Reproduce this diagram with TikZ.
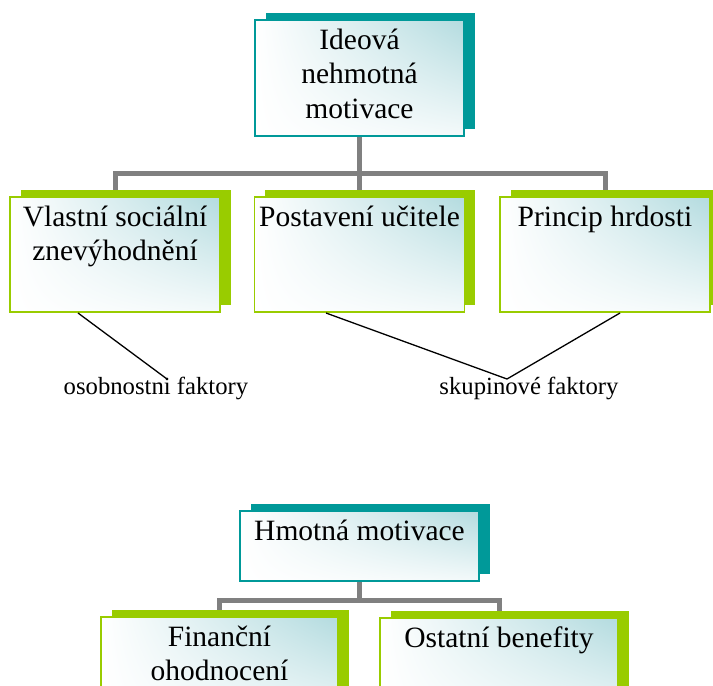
\documentclass[tikz,border=0pt]{standalone}
\usepackage{fontspec}
\setmainfont{Liberation Serif}
\usetikzlibrary{shadows,shadings}
\definecolor{tealc}{HTML}{009999}
\definecolor{greenc}{HTML}{99CC00}
\definecolor{grayc}{HTML}{808080}
\definecolor{lightt}{HTML}{B3DBDF}
\pgfdeclarelayer{background}
\pgfsetlayers{background,main}
\tikzset{
  boxbase/.style={rectangle, inner sep=0pt, outer sep=0pt, line width=1.8pt,
    upper left=white, upper right=lightt, lower left=white, lower right=white!85!lightt},
  tealbox/.style={boxbase, draw=tealc, general shadow={shadow xshift=10.5pt, shadow yshift=7.5pt, fill=tealc}},
  greenbox/.style={boxbase, draw=greenc, general shadow={shadow xshift=10.5pt, shadow yshift=7.5pt, fill=greenc}},
  boxtext/.style={font=\fontsize{29.5pt}{34.5pt}\selectfont, align=center, anchor=base, inner sep=0pt},
  labtext/.style={font=\fontsize{24.7pt}{29pt}\selectfont, anchor=base, inner sep=0pt},
  conn/.style={draw=grayc, line width=5pt, line join=miter, line cap=rect},
  pointer/.style={draw=black, line width=1.3pt}
}
\begin{document}
\begin{tikzpicture}[x=1pt,y=-1pt]
\useasboundingbox (0,0) rectangle (713,686);
\clip (0,0) rectangle (713,686);
% top tree
\node[tealbox, minimum width=209pt, minimum height=116pt] (top) at (359.5,78) {};
\node[boxtext] (ttop) at ([yshift=-98pt]top.north) {Ideová\\nehmotná\\motivace};
\node[greenbox, minimum width=210pt, minimum height=115pt] (b1) at (115,254.5) {};
\node[greenbox, minimum width=210pt, minimum height=115pt] (b2) at (359.5,254.5) {};
\node[greenbox, minimum width=210pt, minimum height=115pt] (b3) at (605,254.5) {};
\node[boxtext] (tb1) at ([yshift=-63.5pt]b1.north) {Vlastní sociální\\znevýhodnění};
\node[boxtext] (tb2) at ([yshift=-29pt]b2.north) {Postavení učitele};
\node[boxtext] (tb3) at ([yshift=-29pt]b3.north) {Princip hrdosti};
\coordinate (j1) at (359.5,173);
% labels
\node[labtext] (l1) at (156,394) {osobnostni faktory};
\node[labtext] (l2) at (529,394) {skupinové faktory};
\coordinate (e1) at (167,379);
\coordinate (e2) at (507,379);
\coordinate (s1) at (78,313);
\coordinate (s2) at (326,313);
\coordinate (s3) at (620,313);
\draw[pointer] (s1) -- (e1);
\draw[pointer] (s2) -- (e2) -- (s3);
% bottom tree
\node[tealbox, minimum width=239pt, minimum height=70pt] (hm) at (359.5,546) {};
\node[boxtext] (thm) at ([yshift=-29pt]hm.north) {Hmotná motivace};
\node[greenbox, minimum width=237pt, minimum height=110pt] (c1) at (219.5,672) {};
\node[greenbox, minimum width=238pt, minimum height=110pt] (c2) at (499,673) {};
\node[boxtext] (tc1) at ([yshift=-63.5pt]c1.north) {Finanční\\ohodnocení};
\node[boxtext] (tc2) at ([yshift=-29pt]c2.north) {Ostatní benefity};
\coordinate (j2) at (359.5,600);
\begin{pgfonlayer}{background}
  \draw[conn] (top.south) -- (j1);
  \draw[conn] (b1.north) -- (b1.north |- j1) -- (b3.north |- j1) -- (b3.north);
  \draw[conn] (j1) -- (b2.north);
  \draw[conn] (hm.south) -- (j2);
  \draw[conn] (c1.north) -- (c1.north |- j2) -- (c2.north |- j2) -- (c2.north);
\end{pgfonlayer}
\end{tikzpicture}
\end{document}
